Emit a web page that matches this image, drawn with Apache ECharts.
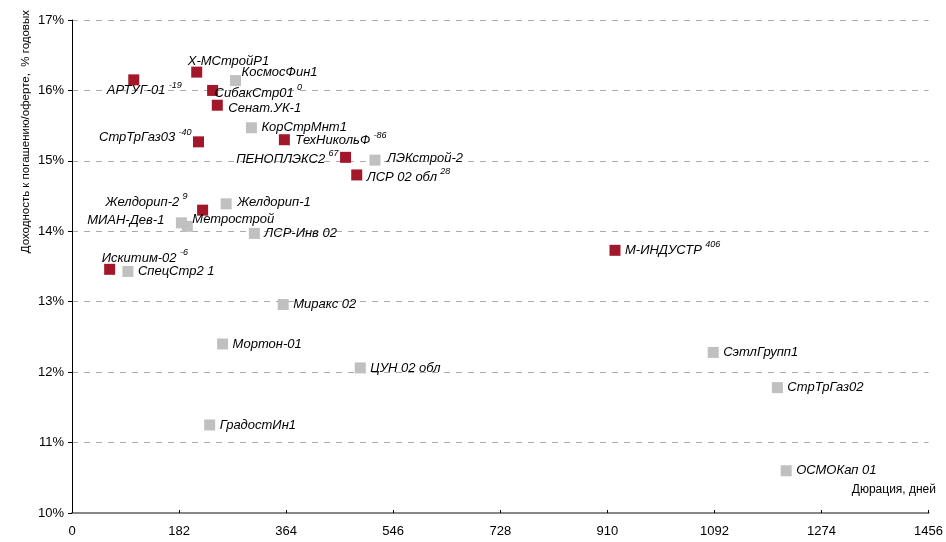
<!DOCTYPE html>
<html>
<head>
<meta charset="utf-8">
<script src="https://cdn.jsdelivr.net/npm/echarts@6/dist/echarts.min.js"></script>
<style>
  html, body { margin: 0; padding: 0; background: #fff; }
  #chart { width: 946px; height: 542px; }
</style>
</head>
<body>
<div id="chart"></div>
<script>
// выпуски, по которым есть значение в верхнем индексе (красные)
const redNames = ["АРТУГ-01", "Х-МСтройР1", "СибакСтр01", "Сенат.УК-1", "СтрТрГаз03", "ТехНикольФ",
  "ПЕНОПЛЭКС2", "ЛСР 02 обл", "Желдорип-2", "Искитим-02", "М-ИНДУСТР"];
const redDuration = [105, 212, 239, 247, 215, 361, 465, 484, 222, 64, 923];
const redYield = [16.15, 16.26, 16.0, 15.79, 15.27, 15.3, 15.05, 14.8, 14.3, 13.46, 13.73];
const redSup = ["-19", "", "0", "", "-40", "-86", "67", "28", "9", "-6", "406"];

// серые выпуски
const grayNames = ["КосмосФин1", "КорСтрМнт1", "ЛЭКстрой-2", "Желдорип-1", "МИАН-Дев-1", "Метрострой",
  "ЛСР-Инв 02", "СпецСтр2 1", "Миракс 02", "Мортон-01", "ЦУН 02 обл", "ГрадостИн1",
  "СэтлГрупп1", "СтрТрГаз02", "ОСМОКап 01"];
const grayDuration = [278, 305, 515, 262, 186, 196, 310, 95, 359, 256, 490, 234, 1090, 1199, 1214];
const grayYield = [16.14, 15.47, 15.01, 14.39, 14.12, 14.07, 13.97, 13.43, 12.96, 12.4, 12.06, 11.25, 12.28, 11.78, 10.6];

const xTicks = [0, 182, 364, 546, 728, 910, 1092, 1274, 1456];
const yTicks = [10, 11, 12, 13, 14, 15, 16, 17];

// где подписи стоят относительно точки: [выравнивание, dx, dy]
const labelPlace = {
  "АРТУГ-01": ["left", -27, 11],
  "Х-МСтройР1": ["left", -9, -11],
  "СибакСтр01": ["left", 2, 3],
  "Сенат.УК-1": ["left", 11, 3],
  "СтрТрГаз03": ["right", -7, -4],
  "ТехНикольФ": ["left", 11, 1],
  "ПЕНОПЛЭКС2": ["right", -7, 2],
  "ЛСР 02 обл": ["left", 10, 2],
  "Желдорип-2": ["right", -15, -8],
  "Искитим-02": ["left", -8, -11],
  "М-ИНДУСТР": ["left", 10, 0],
  "КосмосФин1": ["left", 6, -8],
  "ЛЭКстрой-2": ["left", 12, -2],
  "Желдорип-1": ["left", 11, -1],
  "МИАН-Дев-1": ["right", -17, -2],
  "Метрострой": ["left", 5, -7]
};

const font = "'Liberation Sans', Arial, sans-serif";

function makePoints(names, xs, ys, sups) {
  return names.map((n, i) => {
    const pl = labelPlace[n] || ["left", 10, 0];
    return {
      name: n,
      value: [xs[i], ys[i]],
      sup: sups ? sups[i] : "",
      label: { align: pl[0], offset: [pl[1], pl[2]] }
    };
  });
}

const labelBase = {
  show: true,
  position: "inside",
  verticalAlign: "middle",
  color: "#000",
  formatter: p => p.data.sup !== "" ? "{n|" + p.name + "} {s|" + p.data.sup + "}" : "{n|" + p.name + "}",
  rich: {
    n: { fontFamily: font, fontStyle: "italic", fontSize: 13, color: "#000", lineHeight: 20 },
    s: { fontFamily: font, fontStyle: "italic", fontSize: 9, color: "#000", verticalAlign: "top", lineHeight: 20 }
  }
};

const chart = echarts.init(document.getElementById("chart"));
chart.setOption({
  animation: false,
  grid: { left: 72, right: 16, top: 20, bottom: 29 },
  xAxis: {
    type: "value",
    min: xTicks[0],
    max: xTicks[xTicks.length - 1],
    interval: 182,
    axisLine: { onZero: false, lineStyle: { color: "#888", width: 2 } },
    axisTick: { show: true, inside: true, length: 3, lineStyle: { color: "#000" } },
    axisLabel: { fontFamily: font, fontSize: 13, color: "#000", margin: 12, formatter: v => String(v) },
    splitLine: { show: false }
  },
  yAxis: {
    type: "value",
    min: yTicks[0],
    max: yTicks[yTicks.length - 1],
    interval: 1,
    axisLine: { show: true, onZero: false, lineStyle: { color: "#000", width: 1 } },
    axisTick: { show: true, length: 4, lineStyle: { color: "#000" } },
    axisLabel: { fontFamily: font, fontSize: 13, color: "#000", margin: 8, formatter: "{value}%" },
    splitLine: { show: true, lineStyle: { color: "#aaa", type: [6, 6], width: 1 } }
  },
  graphic: [
    {
      type: "text",
      left: 20,
      top: 10,
      rotation: Math.PI / 2,
      style: { text: "Доходность к погашению/оферте,  % годовых", fontFamily: font, fontSize: 11.5, fill: "#000" }
    },
    {
      type: "text",
      right: 10,
      top: 484,
      style: { text: "Дюрация, дней", fontFamily: font, fontSize: 12, fill: "#000" }
    }
  ],
  series: [
    {
      type: "scatter",
      symbol: "rect",
      symbolSize: 11,
      itemStyle: { color: "#c0c0c0", opacity: 1 },
      label: labelBase,
      data: makePoints(grayNames, grayDuration, grayYield, null)
    },
    {
      type: "scatter",
      symbol: "rect",
      symbolSize: 11,
      itemStyle: { color: "#a3172b", opacity: 1 },
      label: labelBase,
      data: makePoints(redNames, redDuration, redYield, redSup)
    }
  ]
});
</script>
</body>
</html>
